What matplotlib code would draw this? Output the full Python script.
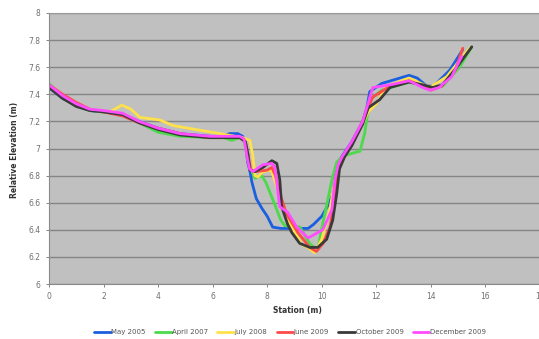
import matplotlib
matplotlib.use("Agg")
import matplotlib.pyplot as plt

# ---- data ----
may05_x = [0, 0.5, 1, 1.5, 2, 2.7, 3.3, 4, 4.8, 5.9, 6.3, 6.63, 6.92, 7.1, 7.2, 7.28, 7.36, 7.44, 7.6, 7.8, 8.0, 8.2,
           8.5, 9.0, 9.5, 9.7, 10.0, 10.2, 10.4, 10.5, 10.7, 11.1, 11.5, 11.65, 11.76, 12.2, 12.7, 13.2, 13.5, 13.85,
           14.1, 14.7, 15.17]
may05_y = [7.45, 7.37, 7.32, 7.28, 7.27, 7.25, 7.2, 7.15, 7.11, 7.09, 7.09, 7.11, 7.11, 7.09, 7.05, 6.9, 6.84, 6.75,
           6.63, 6.56, 6.5, 6.42, 6.41, 6.41, 6.41, 6.44, 6.5, 6.57, 6.66, 6.85, 6.93, 7.05, 7.2, 7.3, 7.42, 7.48,
           7.51, 7.54, 7.52, 7.46, 7.46, 7.58, 7.73]

apr07_x = [0, 0.5, 1, 1.5, 2, 2.7, 3.3, 4, 4.8, 5.9, 6.4, 6.7, 7.0, 7.15, 7.3, 7.55, 7.8, 7.95, 8.25, 8.5, 8.65, 9.2,
           9.55, 9.85, 10.04, 10.22, 10.37, 10.55, 10.75, 11.2, 11.4, 11.57, 11.76, 12.2, 12.7, 13.2, 13.6, 14.07,
           14.43, 15.05, 15.5]
apr07_y = [7.48, 7.38, 7.32, 7.28, 7.27, 7.25, 7.19, 7.12, 7.09, 7.08, 7.08, 7.06, 7.08, 7.06, 6.9, 6.78, 6.8, 6.75,
           6.6, 6.47, 6.43, 6.42, 6.3, 6.25, 6.45, 6.62, 6.77, 6.9, 6.94, 6.97, 6.98, 7.11, 7.36, 7.43, 7.46, 7.49,
           7.47, 7.45, 7.46, 7.6, 7.75]

jul08_x = [0, 0.5, 1, 1.5, 2, 2.23, 2.67, 3.0, 3.33, 4.07, 4.54, 4.8, 6.26, 7.1, 7.36, 7.47, 7.55, 7.66, 7.84, 8.15,
           8.35, 8.57, 8.94, 9.27, 9.49, 9.74, 10.0, 10.3, 10.48, 10.7, 11.1, 11.5, 11.7, 12.0, 12.38, 13.2, 13.96,
           14.58, 15.42]
jul08_y = [7.46, 7.38, 7.33, 7.29, 7.27, 7.27, 7.32, 7.29, 7.23, 7.21, 7.17, 7.16, 7.11, 7.08, 7.06, 6.95, 6.8, 6.79,
           6.83, 6.84, 6.72, 6.55, 6.41, 6.29, 6.27, 6.23, 6.33, 6.55, 6.77, 6.9, 7.03, 7.18, 7.27, 7.33, 7.46, 7.52,
           7.45, 7.53, 7.74]

jun09_x = [0, 0.5, 1, 1.5, 2, 2.7, 3.3, 4, 4.8, 5.9, 6.5, 7.0, 7.2, 7.3, 7.4, 7.6, 7.99, 8.17, 8.3, 8.46, 8.7, 9.12,
           9.56, 9.8, 10.05, 10.3, 10.48, 10.6, 10.75, 11.1, 11.5, 11.7, 11.87, 12.5, 13.2, 13.7, 14.0, 14.4, 14.9,
           15.17]
jun09_y = [7.47, 7.4, 7.34, 7.29, 7.27, 7.24, 7.19, 7.15, 7.11, 7.08, 7.08, 7.08, 7.05, 6.95, 6.84, 6.83, 6.84, 6.86,
           6.8, 6.67, 6.52, 6.38, 6.27, 6.24, 6.3, 6.42, 6.62, 6.85, 6.93, 7.04, 7.2, 7.3, 7.38, 7.46, 7.5, 7.46,
           7.43, 7.46, 7.58, 7.74]

oct09_x = [0, 0.5, 1, 1.5, 2, 2.7, 3.3, 4, 4.8, 5.9, 6.5, 7.0, 7.2, 7.3, 7.36, 7.55, 7.84, 8.17, 8.35, 8.46, 8.53,
           8.75, 8.9, 9.19, 9.56, 9.85, 10.18, 10.4, 10.55, 10.65, 10.84, 11.1, 11.5, 11.7, 12.12, 12.5, 13.2, 13.7,
           14.07, 14.43, 14.95, 15.5]
oct09_y = [7.45, 7.37, 7.31, 7.28, 7.27, 7.25, 7.19, 7.14, 7.1, 7.08, 7.08, 7.08, 7.05, 6.95, 6.84, 6.83, 6.86, 6.91,
           6.89, 6.77, 6.57, 6.44, 6.38, 6.3, 6.27, 6.27, 6.33, 6.47, 6.67, 6.85, 6.94, 7.02, 7.18, 7.3, 7.36, 7.45,
           7.49, 7.47, 7.45, 7.47, 7.6, 7.75]

dec09_x = [0, 0.5, 1, 1.5, 2, 2.7, 3.3, 4, 4.8, 5.9, 6.5, 7.0, 7.15, 7.25, 7.35, 7.47, 7.84, 8.17, 8.28, 8.46, 8.75,
           9.08, 9.5, 10.04, 10.37, 10.48, 10.6, 10.75, 11.1, 11.5, 11.65, 11.87, 12.5, 13.2, 13.7, 13.96, 14.3,
           14.76, 15.13]
dec09_y = [7.47, 7.39, 7.33, 7.29, 7.28, 7.26, 7.2, 7.15, 7.11, 7.09, 7.09, 7.09, 7.07, 6.95, 6.85, 6.83, 6.88, 6.89,
           6.86, 6.57, 6.53, 6.42, 6.34, 6.4, 6.55, 6.77, 6.88, 6.94, 7.05, 7.2, 7.3, 7.45, 7.47, 7.5, 7.45, 7.43,
           7.45, 7.53, 7.68]

labels = ["May 2005", "April 2007", "July 2008", "June 2009", "October 2009", "December 2009"]
x_ticks = [0, 2, 4, 6, 8, 10, 12, 14, 16, 18]
y_ticks = [6, 6.2, 6.4, 6.6, 6.8, 7, 7.2, 7.4, 7.6, 7.8, 8]
y_tick_labels = ["6", "6.2", "6.4", "6.6", "6.8", "7", "7.2", "7.4", "7.6", "7.8", "8"]

series = [(may05_x, may05_y), (apr07_x, apr07_y), (jul08_x, jul08_y),
          (jun09_x, jun09_y), (oct09_x, oct09_y), (dec09_x, dec09_y)]
colors = ["#1a5fe0", "#4cd94c", "#ffe14a", "#ff4a4a", "#3a3a3a", "#ff4dff"]

fig = plt.figure(figsize=(5.39, 3.39), dpi=100)
ax = fig.add_axes([49 / 539, 1 - 284 / 339, 491 / 539, 271 / 339])
ax.set_facecolor("#c0c0c0")

for (xs, ys), c, lab in zip(series, colors, labels):
    ax.plot(xs, ys, color=c, lw=2.0, label=lab, solid_joinstyle="round", solid_capstyle="round")

ax.set_xlim(0, 18)
ax.set_ylim(6, 8)
ax.set_xticks(x_ticks)
ax.set_yticks(y_ticks)
ax.set_yticklabels(y_tick_labels)
ax.tick_params(axis="both", labelsize=5.5, colors="#707070", length=2, width=0.6, pad=4)
ax.yaxis.grid(True, color="#858585", lw=1.0)
ax.set_axisbelow(True)
for s in ["left", "bottom"]:
    ax.spines[s].set_color("#8a8a8a")
    ax.spines[s].set_linewidth(0.8)
ax.spines["top"].set_color("#9a9a9a")
ax.spines["top"].set_linewidth(0.8)
ax.spines["right"].set_visible(False)

fig.text(297 / 539, 1 - 310 / 339, "Station (m)", ha="center", va="center", fontsize=5.5, fontweight="bold",
         color="#333333")
fig.text(14 / 539, 1 - 150 / 339, "Relative Elevation (m)", ha="center", va="center", rotation=90, fontsize=5.5,
         fontweight="bold", color="#333333")

fig.legend(loc="center", bbox_to_anchor=(290 / 539, 1 - 332 / 339), ncol=6, frameon=False, fontsize=5.0,
           handlelength=2.4, handletextpad=0.1, columnspacing=1.3, labelcolor="#555555")

fig.savefig("out.png", dpi=100)
